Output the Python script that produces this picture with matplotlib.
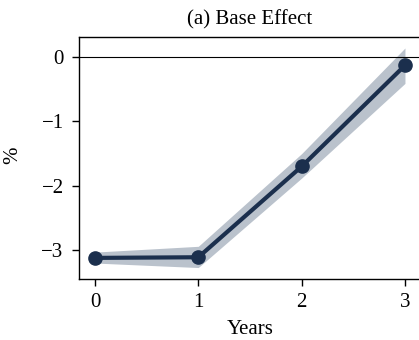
import matplotlib.pyplot as plt

plt.rcParams['font.family'] = ['Liberation Serif', 'DejaVu Serif']

# Data
years = [0, 1, 2, 3]
effect = [-3.12, -3.11, -1.70, -0.13]
lower = [-3.20, -3.27, -1.88, -0.41]
upper = [-3.03, -2.94, -1.50, 0.14]

fig = plt.figure(figsize=(4.19, 3.40), dpi=100)
ax = fig.add_axes([0.1885, 0.179, 0.815, 0.712])

ax.fill_between(years, lower, upper, color='#bac2cc', linewidth=0)
ax.plot(years, effect, 'o-', color='#1b2f4d', linewidth=3, markersize=9.5)
ax.axhline(0, color='black', linewidth=0.8)

ax.set_xlim(-0.155, 3.15)
ax.set_ylim(-3.45, 0.31)
ax.set_xticks(years)
ax.set_yticks([0, -1, -2, -3])
ax.tick_params(labelsize=15, length=5, width=1)
ax.tick_params(axis='x', pad=5)
ax.tick_params(axis='y', pad=6)
for s in ax.spines.values():
    s.set_linewidth(1)

ax.set_title('(a) Base Effect', fontsize=15, pad=9)
ax.set_xlabel('Years', fontsize=15, labelpad=6)
ax.set_ylabel('%', fontsize=15)
ax.yaxis.set_label_coords(-0.165, 0.51)

fig.savefig('out.png', dpi=100)
